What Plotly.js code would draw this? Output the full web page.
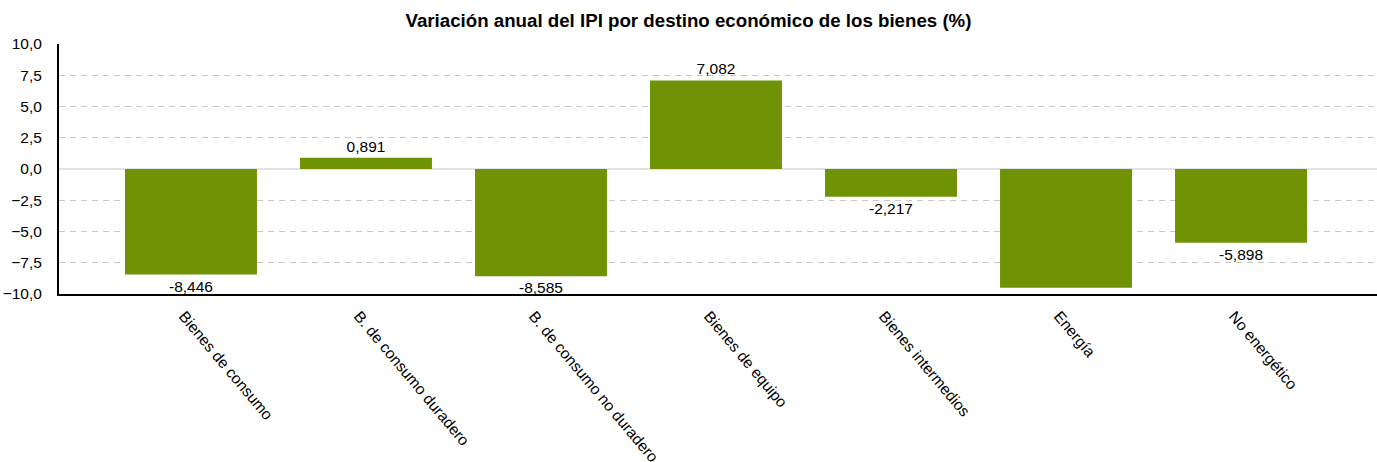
<!DOCTYPE html>
<html>
<head>
<meta charset="utf-8">
<script src="https://cdn.plot.ly/plotly-3.0.1.min.js"></script>
<style>html,body{margin:0;padding:0;background:#fff;}#chart{width:1377px;height:462px;}</style>
</head>
<body>
<div id="chart"></div>
<script>
const categories = ["Bienes de consumo", "B. de consumo duradero", "B. de consumo no duradero", "Bienes de equipo", "Bienes intermedios", "Energía", "No energético"];
const values = [-8.446, 0.891, -8.585, 7.082, -2.217, -9.5, -5.898];
const yTicks = [-10, -7.5, -5, -2.5, 0, 2.5, 5, 7.5, 10];

const FONT = 'Liberation Sans, Arial, sans-serif';

const trace = {
  type: 'bar',
  x: categories,
  y: values,
  width: 0.754,
  marker: {color: '#709306', line: {width: 0}},
  texttemplate: '%{y:.3f}',
  textposition: 'outside',
  constraintext: 'none',
  textfont: {family: FONT, size: 15.5, color: '#000'},
  cliponaxis: true,
  hoverinfo: 'x+y'
};

const layout = {
  width: 1377, height: 462,
  margin: {l: 59, r: 0, t: 44, b: 168, pad: 0},
  paper_bgcolor: '#fff', plot_bgcolor: '#fff',
  separators: ',.',
  showlegend: false,
  font: {family: FONT, size: 15.5, color: '#000'},
  title: {
    text: '<b>Variación anual del IPI por destino económico de los bienes (%)</b>',
    x: 0.5, xanchor: 'center', y: 0.955, yanchor: 'middle',
    font: {family: FONT, size: 18.7, color: '#000'}
  },
  xaxis: {
    type: 'category',
    range: [-0.754, 6.777],
    tickangle: 50,
    showgrid: false,
    showline: true, linecolor: '#000', linewidth: 2,
    ticks: '',
    ticklabelshift: -7,
    ticklabelstandoff: 5,
    tickfont: {family: FONT, size: 15.5, color: '#000'},
    automargin: false
  },
  yaxis: {
    range: [-10, 10],
    tickvals: yTicks,
    tickformat: '.1f',
    showgrid: true, gridcolor: '#c8c8c8', griddash: '6px,5px', gridwidth: 1,
    zeroline: true, zerolinecolor: '#e4e4e4', zerolinewidth: 2,
    showline: true, linecolor: '#000', linewidth: 2,
    ticks: '',
    ticklabelstandoff: 12,
    tickfont: {family: FONT, size: 15.5, color: '#000'},
    automargin: false
  },
  bargap: 0.25
};

Plotly.newPlot('chart', [trace], layout, {staticPlot: true, displayModeBar: false});
</script>
</body>
</html>
